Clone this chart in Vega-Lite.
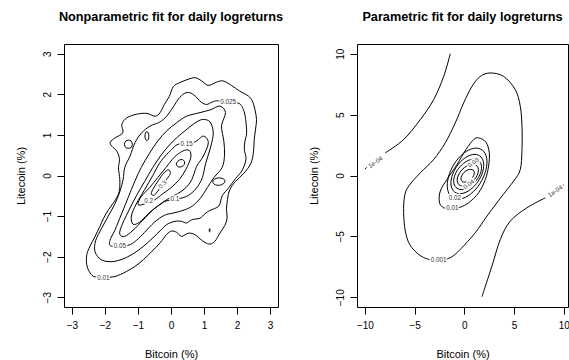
{
"$schema": "https://vega.github.io/schema/vega-lite/v6.json",
"background": "white",
"padding": {"left": 14, "top": 10, "right": 0, "bottom": 0},
"config": {
 "font": "Liberation Sans",
 "view": {"stroke": "black", "strokeWidth": 1},
 "axis": {"domain": false, "grid": false, "tickColor": "black", "tickSize": 7, "labelFont": "Liberation Sans", "labelFontSize": 10, "labelColor": "black", "titleFont": "Liberation Sans", "titleFontSize": 11, "titleFontWeight": "normal", "titleColor": "black", "labelFlush": false},
 "axisX": {"labelPadding": 6, "titlePadding": 18},
 "axisY": {"labelAngle": -90, "labelAlign": "center", "labelBaseline": "bottom", "labelPadding": 5, "titlePadding": 16},
 "title": {"font": "Liberation Sans", "fontSize": 12.7, "fontWeight": "bold", "color": "black", "offset": 20}
},
"spacing": 79,
"bounds": "flush",
"datasets": {
 "np_loops": [
  {"c":"a01","i":1,"x":-1.78,"y":-2.50},{"c":"a01","i":2,"x":-1.54,"y":-2.44},{"c":"a01","i":3,"x":-1.34,"y":-2.36},{"c":"a01","i":4,"x":-1.09,"y":-2.24},{"c":"a01","i":5,"x":-0.83,"y":-2.07},{"c":"a01","i":6,"x":-0.58,"y":-1.87},{"c":"a01","i":7,"x":-0.33,"y":-1.66},{"c":"a01","i":8,"x":-0.13,"y":-1.45},{"c":"a01","i":9,"x":0.02,"y":-1.37},{"c":"a01","i":10,"x":0.17,"y":-1.40},{"c":"a01","i":11,"x":0.32,"y":-1.50},{"c":"a01","i":12,"x":0.53,"y":-1.42},{"c":"a01","i":13,"x":0.73,"y":-1.46},{"c":"a01","i":14,"x":0.88,"y":-1.56},{"c":"a01","i":15,"x":1.03,"y":-1.65},{"c":"a01","i":16,"x":1.18,"y":-1.69},{"c":"a01","i":17,"x":1.33,"y":-1.62},{"c":"a01","i":18,"x":1.48,"y":-1.42},{"c":"a01","i":19,"x":1.63,"y":-1.23},{"c":"a01","i":20,"x":1.70,"y":-1.05},{"c":"a01","i":21,"x":1.68,"y":-0.84},{"c":"a01","i":22,"x":1.71,"y":-0.59},{"c":"a01","i":23,"x":1.78,"y":-0.35},{"c":"a01","i":24,"x":1.95,"y":-0.15},{"c":"a01","i":25,"x":2.20,"y":0.05},{"c":"a01","i":26,"x":2.42,"y":0.30},{"c":"a01","i":27,"x":2.50,"y":0.60},{"c":"a01","i":28,"x":2.52,"y":0.89},{"c":"a01","i":29,"x":2.56,"y":1.14},{"c":"a01","i":30,"x":2.59,"y":1.38},{"c":"a01","i":31,"x":2.54,"y":1.63},{"c":"a01","i":32,"x":2.46,"y":1.84},{"c":"a01","i":33,"x":2.34,"y":1.96},{"c":"a01","i":34,"x":2.08,"y":2.08},{"c":"a01","i":35,"x":1.83,"y":2.22},{"c":"a01","i":36,"x":1.58,"y":2.33},{"c":"a01","i":37,"x":1.38,"y":2.30},{"c":"a01","i":38,"x":1.13,"y":2.22},{"c":"a01","i":39,"x":0.93,"y":2.33},{"c":"a01","i":40,"x":0.73,"y":2.41},{"c":"a01","i":41,"x":0.52,"y":2.37},{"c":"a01","i":42,"x":0.27,"y":2.29},{"c":"a01","i":43,"x":0.07,"y":2.19},{"c":"a01","i":44,"x":-0.05,"y":1.95},{"c":"a01","i":45,"x":-0.20,"y":1.75},{"c":"a01","i":46,"x":-0.33,"y":1.55},{"c":"a01","i":47,"x":-0.48,"y":1.46},{"c":"a01","i":48,"x":-0.73,"y":1.53},{"c":"a01","i":49,"x":-1.04,"y":1.51},{"c":"a01","i":50,"x":-1.34,"y":1.42},{"c":"a01","i":51,"x":-1.49,"y":1.26},{"c":"a01","i":52,"x":-1.46,"y":1.05},{"c":"a01","i":53,"x":-1.69,"y":0.93},{"c":"a01","i":54,"x":-1.84,"y":0.82},{"c":"a01","i":55,"x":-1.79,"y":0.72},{"c":"a01","i":56,"x":-1.64,"y":0.60},{"c":"a01","i":57,"x":-1.56,"y":0.40},{"c":"a01","i":58,"x":-1.59,"y":0.19},{"c":"a01","i":59,"x":-1.55,"y":-0.10},{"c":"a01","i":60,"x":-1.56,"y":-0.35},{"c":"a01","i":61,"x":-1.62,"y":-0.51},{"c":"a01","i":62,"x":-1.74,"y":-0.67},{"c":"a01","i":63,"x":-1.89,"y":-0.84},{"c":"a01","i":64,"x":-2.04,"y":-1.05},{"c":"a01","i":65,"x":-2.15,"y":-1.25},{"c":"a01","i":66,"x":-2.30,"y":-1.50},{"c":"a01","i":67,"x":-2.45,"y":-1.74},{"c":"a01","i":68,"x":-2.55,"y":-1.95},{"c":"a01","i":69,"x":-2.55,"y":-2.20},{"c":"a01","i":70,"x":-2.45,"y":-2.40},{"c":"a01","i":71,"x":-2.28,"y":-2.50},

  {"c":"a025","i":1,"x":2.02,"y":1.79},{"c":"a025","i":2,"x":2.19,"y":1.63},{"c":"a025","i":3,"x":2.26,"y":1.38},{"c":"a025","i":4,"x":2.29,"y":1.05},{"c":"a025","i":5,"x":2.24,"y":0.85},{"c":"a025","i":6,"x":2.22,"y":0.64},{"c":"a025","i":7,"x":2.27,"y":0.40},{"c":"a025","i":8,"x":2.15,"y":0.12},{"c":"a025","i":9,"x":1.95,"y":-0.08},{"c":"a025","i":10,"x":1.75,"y":-0.30},{"c":"a025","i":11,"x":1.55,"y":-0.50},{"c":"a025","i":12,"x":1.45,"y":-0.75},{"c":"a025","i":13,"x":1.18,"y":-0.86},{"c":"a025","i":14,"x":1.03,"y":-0.94},{"c":"a025","i":15,"x":0.88,"y":-1.05},{"c":"a025","i":16,"x":0.63,"y":-1.09},{"c":"a025","i":17,"x":0.47,"y":-1.17},{"c":"a025","i":18,"x":0.32,"y":-1.13},{"c":"a025","i":19,"x":0.12,"y":-1.13},{"c":"a025","i":20,"x":-0.13,"y":-1.21},{"c":"a025","i":21,"x":-0.40,"y":-1.42},{"c":"a025","i":22,"x":-0.70,"y":-1.65},{"c":"a025","i":23,"x":-1.00,"y":-1.85},{"c":"a025","i":24,"x":-1.35,"y":-2.02},{"c":"a025","i":25,"x":-1.75,"y":-2.12},{"c":"a025","i":26,"x":-2.10,"y":-2.08},{"c":"a025","i":27,"x":-2.30,"y":-1.88},{"c":"a025","i":28,"x":-2.28,"y":-1.60},{"c":"a025","i":29,"x":-2.10,"y":-1.30},{"c":"a025","i":30,"x":-1.90,"y":-1.00},{"c":"a025","i":31,"x":-1.70,"y":-0.70},{"c":"a025","i":32,"x":-1.55,"y":-0.40},{"c":"a025","i":33,"x":-1.45,"y":-0.10},{"c":"a025","i":34,"x":-1.40,"y":0.20},{"c":"a025","i":35,"x":-1.24,"y":0.48},{"c":"a025","i":36,"x":-1.09,"y":0.81},{"c":"a025","i":37,"x":-0.89,"y":1.05},{"c":"a025","i":38,"x":-0.63,"y":1.22},{"c":"a025","i":39,"x":-0.38,"y":1.30},{"c":"a025","i":40,"x":-0.18,"y":1.42},{"c":"a025","i":41,"x":0.02,"y":1.63},{"c":"a025","i":42,"x":0.22,"y":1.88},{"c":"a025","i":43,"x":0.40,"y":2.02},{"c":"a025","i":44,"x":0.57,"y":2.04},{"c":"a025","i":45,"x":0.73,"y":1.96},{"c":"a025","i":46,"x":0.91,"y":1.81},{"c":"a025","i":47,"x":1.08,"y":1.75},{"c":"a025","i":48,"x":1.25,"y":1.81},{"c":"a025","i":49,"x":1.45,"y":1.84},

  {"c":"a05","i":1,"x":-1.30,"y":-1.72},{"c":"a05","i":2,"x":-1.05,"y":-1.60},{"c":"a05","i":3,"x":-0.80,"y":-1.40},{"c":"a05","i":4,"x":-0.50,"y":-1.15},{"c":"a05","i":5,"x":-0.20,"y":-0.98},{"c":"a05","i":6,"x":0.10,"y":-0.92},{"c":"a05","i":7,"x":0.40,"y":-0.85},{"c":"a05","i":8,"x":0.65,"y":-0.75},{"c":"a05","i":9,"x":0.90,"y":-0.55},{"c":"a05","i":10,"x":1.10,"y":-0.30},{"c":"a05","i":11,"x":1.30,"y":-0.05},{"c":"a05","i":12,"x":1.55,"y":0.20},{"c":"a05","i":13,"x":1.62,"y":0.50},{"c":"a05","i":14,"x":1.60,"y":0.85},{"c":"a05","i":15,"x":1.53,"y":1.22},{"c":"a05","i":16,"x":1.65,"y":1.55},{"c":"a05","i":17,"x":1.48,"y":1.71},{"c":"a05","i":18,"x":1.20,"y":1.62},{"c":"a05","i":19,"x":0.88,"y":1.55},{"c":"a05","i":20,"x":0.47,"y":1.46},{"c":"a05","i":21,"x":0.17,"y":1.30},{"c":"a05","i":22,"x":-0.13,"y":1.10},{"c":"a05","i":23,"x":-0.40,"y":0.85},{"c":"a05","i":24,"x":-0.65,"y":0.55},{"c":"a05","i":25,"x":-0.90,"y":0.20},{"c":"a05","i":26,"x":-1.10,"y":-0.15},{"c":"a05","i":27,"x":-1.30,"y":-0.55},{"c":"a05","i":28,"x":-1.50,"y":-0.95},{"c":"a05","i":29,"x":-1.70,"y":-1.35},{"c":"a05","i":30,"x":-1.85,"y":-1.60},{"c":"a05","i":31,"x":-1.80,"y":-1.74},

  {"c":"a1","i":1,"x":0.35,"y":-0.55},{"c":"a1","i":2,"x":0.60,"y":-0.45},{"c":"a1","i":3,"x":0.80,"y":-0.28},{"c":"a1","i":4,"x":0.95,"y":-0.05},{"c":"a1","i":5,"x":1.05,"y":0.30},{"c":"a1","i":6,"x":1.20,"y":0.70},{"c":"a1","i":7,"x":1.28,"y":1.05},{"c":"a1","i":8,"x":1.18,"y":1.32},{"c":"a1","i":9,"x":0.95,"y":1.38},{"c":"a1","i":10,"x":0.70,"y":1.28},{"c":"a1","i":11,"x":0.45,"y":1.12},{"c":"a1","i":12,"x":0.20,"y":0.95},{"c":"a1","i":13,"x":-0.05,"y":0.75},{"c":"a1","i":14,"x":-0.30,"y":0.50},{"c":"a1","i":15,"x":-0.55,"y":0.20},{"c":"a1","i":16,"x":-0.80,"y":-0.15},{"c":"a1","i":17,"x":-1.05,"y":-0.50},{"c":"a1","i":18,"x":-1.30,"y":-0.90},{"c":"a1","i":19,"x":-1.50,"y":-1.25},{"c":"a1","i":20,"x":-1.55,"y":-1.45},{"c":"a1","i":21,"x":-1.40,"y":-1.50},{"c":"a1","i":22,"x":-1.15,"y":-1.35},{"c":"a1","i":23,"x":-0.85,"y":-1.10},{"c":"a1","i":24,"x":-0.55,"y":-0.85},{"c":"a1","i":25,"x":-0.30,"y":-0.70},{"c":"a1","i":26,"x":-0.12,"y":-0.62},

  {"c":"a15","i":1,"x":0.70,"y":0.82},{"c":"a15","i":2,"x":0.98,"y":0.97},{"c":"a15","i":3,"x":1.13,"y":0.81},{"c":"a15","i":4,"x":0.98,"y":0.48},{"c":"a15","i":5,"x":0.78,"y":0.23},{"c":"a15","i":6,"x":0.63,"y":-0.10},{"c":"a15","i":7,"x":0.45,"y":-0.30},{"c":"a15","i":8,"x":0.20,"y":-0.45},{"c":"a15","i":9,"x":-0.10,"y":-0.58},{"c":"a15","i":10,"x":-0.40,"y":-0.75},{"c":"a15","i":11,"x":-0.70,"y":-0.95},{"c":"a15","i":12,"x":-0.95,"y":-1.15},{"c":"a15","i":13,"x":-1.15,"y":-1.20},{"c":"a15","i":14,"x":-1.20,"y":-1.00},{"c":"a15","i":15,"x":-1.05,"y":-0.70},{"c":"a15","i":16,"x":-0.80,"y":-0.35},{"c":"a15","i":17,"x":-0.55,"y":0.00},{"c":"a15","i":18,"x":-0.35,"y":0.30},{"c":"a15","i":19,"x":-0.13,"y":0.52},{"c":"a15","i":20,"x":0.02,"y":0.64},{"c":"a15","i":21,"x":0.22,"y":0.77},

  {"c":"a2","i":1,"x":-0.50,"y":-0.60},{"c":"a2","i":2,"x":-0.25,"y":-0.45},{"c":"a2","i":3,"x":0.00,"y":-0.30},{"c":"a2","i":4,"x":0.25,"y":-0.10},{"c":"a2","i":5,"x":0.45,"y":0.15},{"c":"a2","i":6,"x":0.60,"y":0.45},{"c":"a2","i":7,"x":0.55,"y":0.62},{"c":"a2","i":8,"x":0.35,"y":0.60},{"c":"a2","i":9,"x":0.10,"y":0.45},{"c":"a2","i":10,"x":-0.15,"y":0.20},{"c":"a2","i":11,"x":-0.40,"y":-0.05},{"c":"a2","i":12,"x":-0.65,"y":-0.30},{"c":"a2","i":13,"x":-0.90,"y":-0.52},{"c":"a2","i":14,"x":-1.00,"y":-0.70},{"c":"a2","i":15,"x":-0.88,"y":-0.72},

  {"c":"a3","i":1,"x":-0.12,"y":-0.08},{"c":"a3","i":2,"x":-0.02,"y":0.05},{"c":"a3","i":3,"x":-0.08,"y":0.14},{"c":"a3","i":4,"x":-0.22,"y":0.06},{"c":"a3","i":5,"x":-0.38,"y":-0.12},{"c":"a3","i":6,"x":-0.52,"y":-0.30},{"c":"a3","i":7,"x":-0.60,"y":-0.45},{"c":"a3","i":8,"x":-0.50,"y":-0.48},{"c":"a3","i":9,"x":-0.38,"y":-0.36},

  {"c":"b1","i":1,"x":-1.17,"y":0.77},{"c":"b1","i":2,"x":-1.21,"y":0.85},{"c":"b1","i":3,"x":-1.29,"y":0.87},{"c":"b1","i":4,"x":-1.37,"y":0.85},{"c":"b1","i":5,"x":-1.41,"y":0.77},{"c":"b1","i":6,"x":-1.37,"y":0.69},{"c":"b1","i":7,"x":-1.29,"y":0.67},{"c":"b1","i":8,"x":-1.21,"y":0.69},
  {"c":"b2","i":1,"x":-0.67,"y":0.97},{"c":"b2","i":2,"x":-0.69,"y":1.05},{"c":"b2","i":3,"x":-0.73,"y":1.08},{"c":"b2","i":4,"x":-0.77,"y":1.05},{"c":"b2","i":5,"x":-0.79,"y":0.97},{"c":"b2","i":6,"x":-0.77,"y":0.89},{"c":"b2","i":7,"x":-0.73,"y":0.86},{"c":"b2","i":8,"x":-0.69,"y":0.89},
  {"c":"b3","i":1,"x":0.41,"y":0.34},{"c":"b3","i":2,"x":0.35,"y":0.39},{"c":"b3","i":3,"x":0.25,"y":0.38},{"c":"b3","i":4,"x":0.17,"y":0.31},{"c":"b3","i":5,"x":0.17,"y":0.25},{"c":"b3","i":6,"x":0.23,"y":0.21},{"c":"b3","i":7,"x":0.33,"y":0.22},{"c":"b3","i":8,"x":0.40,"y":0.27},
  {"c":"b4","i":1,"x":1.63,"y":-0.12},{"c":"b4","i":2,"x":1.55,"y":-0.07},{"c":"b4","i":3,"x":1.43,"y":-0.06},{"c":"b4","i":4,"x":1.30,"y":-0.10},{"c":"b4","i":5,"x":1.27,"y":-0.18},{"c":"b4","i":6,"x":1.35,"y":-0.23},{"c":"b4","i":7,"x":1.47,"y":-0.24},{"c":"b4","i":8,"x":1.59,"y":-0.20},
  {"c":"b5","i":1,"x":1.18,"y":-1.32},{"c":"b5","i":2,"x":1.16,"y":-1.32},{"c":"b5","i":3,"x":1.16,"y":-1.38},{"c":"b5","i":4,"x":1.18,"y":-1.38}
 ],
 "np_lab0": [
  {"t":"0.01","x":-2.05,"y":-2.52},{"t":"0.025","x":1.73,"y":1.82},{"t":"0.05","x":-1.55,"y":-1.74},{"t":"0.1","x":0.12,"y":-0.58},{"t":"0.15","x":0.47,"y":0.77},{"t":"0.2","x":-0.68,"y":-0.63}
 ],
 "np_lab40": [
  {"t":"0.3","x":-0.26,"y":-0.22}
 ],
 "p_lines": [
  {"c":"u1","i":1,"x":-7.95,"y":1.86},{"c":"u1","i":2,"x":-6.11,"y":2.95},{"c":"u1","i":3,"x":-4.43,"y":4.59},{"c":"u1","i":4,"x":-3.09,"y":6.23},{"c":"u1","i":5,"x":-2.08,"y":8.14},{"c":"u1","i":6,"x":-1.41,"y":10.0},
  {"c":"u2","i":1,"x":-10.0,"y":0.52},{"c":"u2","i":2,"x":-9.82,"y":0.66},
  {"c":"v1","i":1,"x":8.15,"y":-1.83},{"c":"v1","i":2,"x":6.30,"y":-2.65},{"c":"v1","i":3,"x":4.63,"y":-3.74},{"c":"v1","i":4,"x":3.62,"y":-5.25},{"c":"v1","i":5,"x":2.78,"y":-7.43},{"c":"v1","i":6,"x":1.77,"y":-9.95},
  {"c":"v2","i":1,"x":9.85,"y":-0.87},{"c":"v2","i":2,"x":10.0,"y":-0.78}
 ],
 "p_loops": [
  {"c":"r001","i":1,"x":-1.41,"y":-6.75},{"c":"r001","i":2,"x":-0.41,"y":-6.07},{"c":"r001","i":3,"x":1.10,"y":-4.70},{"c":"r001","i":4,"x":2.28,"y":-3.33},{"c":"r001","i":5,"x":3.79,"y":-1.69},{"c":"r001","i":6,"x":4.96,"y":-0.46},{"c":"r001","i":7,"x":5.63,"y":0.49},{"c":"r001","i":8,"x":5.80,"y":2.13},{"c":"r001","i":9,"x":5.80,"y":4.04},{"c":"r001","i":10,"x":5.63,"y":5.68},{"c":"r001","i":11,"x":5.13,"y":7.05},{"c":"r001","i":12,"x":3.95,"y":8.14},{"c":"r001","i":13,"x":2.61,"y":8.42},{"c":"r001","i":14,"x":1.61,"y":8.14},{"c":"r001","i":15,"x":0.77,"y":7.32},{"c":"r001","i":16,"x":-0.07,"y":5.96},{"c":"r001","i":17,"x":-0.91,"y":4.32},{"c":"r001","i":18,"x":-1.92,"y":2.68},{"c":"r001","i":19,"x":-3.09,"y":1.31},{"c":"r001","i":20,"x":-4.43,"y":0.22},{"c":"r001","i":21,"x":-5.60,"y":-0.87},{"c":"r001","i":22,"x":-6.01,"y":-1.69},{"c":"r001","i":23,"x":-6.11,"y":-3.06},{"c":"r001","i":24,"x":-5.94,"y":-4.56},{"c":"r001","i":25,"x":-5.50,"y":-5.66},{"c":"r001","i":26,"x":-4.60,"y":-6.48},{"c":"r001","i":27,"x":-3.59,"y":-6.89},{"c":"r001","i":28,"x":-2.58,"y":-6.94},
  {"c":"r01","i":1,"x":-0.41,"y":-2.60},{"c":"r01","i":2,"x":0.43,"y":-2.24},{"c":"r01","i":3,"x":1.44,"y":-1.42},{"c":"r01","i":4,"x":2.11,"y":-0.33},{"c":"r01","i":5,"x":2.44,"y":0.77},{"c":"r01","i":6,"x":2.51,"y":1.86},{"c":"r01","i":7,"x":2.18,"y":2.73},{"c":"r01","i":8,"x":1.44,"y":3.09},{"c":"r01","i":9,"x":0.94,"y":2.95},{"c":"r01","i":10,"x":0.16,"y":2.13},{"c":"r01","i":11,"x":-0.74,"y":0.90},{"c":"r01","i":12,"x":-1.75,"y":-0.33},{"c":"r01","i":13,"x":-2.42,"y":-1.28},{"c":"r01","i":14,"x":-2.51,"y":-2.19},{"c":"r01","i":15,"x":-2.08,"y":-2.65},{"c":"r01","i":16,"x":-1.20,"y":-2.70},
  {"c":"r02","i":1,"x":1.19,"y":2.25},{"c":"r02","i":2,"x":1.96,"y":1.97},{"c":"r02","i":3,"x":2.28,"y":1.20},{"c":"r02","i":4,"x":2.06,"y":0.15},{"c":"r02","i":5,"x":1.37,"y":-0.90},{"c":"r02","i":6,"x":0.38,"y":-1.67},{"c":"r02","i":7,"x":-0.63,"y":-1.95},{"c":"r02","i":8,"x":-1.40,"y":-1.67},{"c":"r02","i":9,"x":-1.72,"y":-0.90},{"c":"r02","i":10,"x":-1.50,"y":0.15},{"c":"r02","i":11,"x":-0.81,"y":1.20},{"c":"r02","i":12,"x":0.18,"y":1.97},
  {"c":"r03","i":1,"x":1.05,"y":1.74},{"c":"r03","i":2,"x":1.68,"y":1.52},{"c":"r03","i":3,"x":1.95,"y":0.93},{"c":"r03","i":4,"x":1.77,"y":0.12},{"c":"r03","i":5,"x":1.20,"y":-0.69},{"c":"r03","i":6,"x":0.39,"y":-1.28},{"c":"r03","i":7,"x":-0.45,"y":-1.50},{"c":"r03","i":8,"x":-1.08,"y":-1.28},{"c":"r03","i":9,"x":-1.35,"y":-0.69},{"c":"r03","i":10,"x":-1.17,"y":0.12},{"c":"r03","i":11,"x":-0.60,"y":0.93},{"c":"r03","i":12,"x":0.21,"y":1.52},
  {"c":"r04","i":1,"x":0.97,"y":1.35},{"c":"r04","i":2,"x":1.50,"y":1.18},{"c":"r04","i":3,"x":1.73,"y":0.73},{"c":"r04","i":4,"x":1.58,"y":0.10},{"c":"r04","i":5,"x":1.09,"y":-0.53},{"c":"r04","i":6,"x":0.40,"y":-0.98},{"c":"r04","i":7,"x":-0.31,"y":-1.15},{"c":"r04","i":8,"x":-0.84,"y":-0.98},{"c":"r04","i":9,"x":-1.07,"y":-0.53},{"c":"r04","i":10,"x":-0.92,"y":0.10},{"c":"r04","i":11,"x":-0.43,"y":0.73},{"c":"r04","i":12,"x":0.26,"y":1.18},
  {"c":"r05","i":1,"x":0.84,"y":0.93},{"c":"r05","i":2,"x":1.25,"y":0.81},{"c":"r05","i":3,"x":1.42,"y":0.48},{"c":"r05","i":4,"x":1.30,"y":0.03},{"c":"r05","i":5,"x":0.93,"y":-0.42},{"c":"r05","i":6,"x":0.41,"y":-0.75},{"c":"r05","i":7,"x":-0.14,"y":-0.87},{"c":"r05","i":8,"x":-0.55,"y":-0.75},{"c":"r05","i":9,"x":-0.72,"y":-0.42},{"c":"r05","i":10,"x":-0.60,"y":0.03},{"c":"r05","i":11,"x":-0.23,"y":0.48},{"c":"r05","i":12,"x":0.29,"y":0.81},
  {"c":"r06","i":1,"x":0.63,"y":0.51},{"c":"r06","i":2,"x":0.89,"y":0.44},{"c":"r06","i":3,"x":1.00,"y":0.25},{"c":"r06","i":4,"x":0.93,"y":-0.02},{"c":"r06","i":5,"x":0.70,"y":-0.29},{"c":"r06","i":6,"x":0.36,"y":-0.48},{"c":"r06","i":7,"x":0.03,"y":-0.55},{"c":"r06","i":8,"x":-0.23,"y":-0.48},{"c":"r06","i":9,"x":-0.34,"y":-0.29},{"c":"r06","i":10,"x":-0.27,"y":-0.02},{"c":"r06","i":11,"x":-0.04,"y":0.25},{"c":"r06","i":12,"x":0.30,"y":0.44}
 ],
 "p_lab0": [
  {"t":"0.001","x":-2.58,"y":-6.94},{"t":"0.01","x":-1.20,"y":-2.70},{"t":"0.02","x":-0.95,"y":-1.83}
 ],
 "p_lab40": [
  {"t":"1e-04","x":-8.95,"y":1.09},{"t":"1e-04","x":9.15,"y":-1.29},{"t":"0.03","x":0.90,"y":1.05},{"t":"0.04","x":0.45,"y":-0.72}
 ]
},
"hconcat": [
 {
  "width": 214, "height": 263,
  "title": "Nonparametric fit for daily logreturns",
  "encoding": {
   "x": {"field": "x", "type": "quantitative", "scale": {"domain": [-3.24, 3.24], "nice": false, "zero": false}, "axis": {"values": [-3,-2,-1,0,1,2,3], "title": "Bitcoin (%)"}},
   "y": {"field": "y", "type": "quantitative", "scale": {"domain": [-3.24, 3.24], "nice": false, "zero": false}, "axis": {"values": [-3,-2,-1,0,1,2,3], "title": "Litecoin (%)"}}
  },
  "layer": [
   {"data": {"name": "np_loops"}, "mark": {"type": "line", "interpolate": "cardinal-closed", "color": "black", "strokeWidth": 1, "clip": true}, "encoding": {"detail": {"field": "c"}, "order": {"field": "i", "type": "quantitative"}}},
   {"data": {"name": "np_lab0"}, "mark": {"type": "text", "fontSize": 6.3, "stroke": "white", "strokeWidth": 3, "fill": "white"}, "encoding": {"text": {"field": "t"}}},
   {"data": {"name": "np_lab0"}, "mark": {"type": "text", "fontSize": 6.3, "fill": "#333"}, "encoding": {"text": {"field": "t"}}},
   {"data": {"name": "np_lab40"}, "mark": {"type": "text", "fontSize": 6.3, "angle": 315, "stroke": "white", "strokeWidth": 3, "fill": "white"}, "encoding": {"text": {"field": "t"}}},
   {"data": {"name": "np_lab40"}, "mark": {"type": "text", "fontSize": 6.3, "angle": 315, "fill": "#333"}, "encoding": {"text": {"field": "t"}}}
  ]
 },
 {
  "width": 211, "height": 263,
  "title": "Parametric fit for daily logreturns",
  "encoding": {
   "x": {"field": "x", "type": "quantitative", "scale": {"domain": [-10.8, 10.43], "nice": false, "zero": false}, "axis": {"values": [-10,-5,0,5,10], "title": "Bitcoin (%)"}},
   "y": {"field": "y", "type": "quantitative", "scale": {"domain": [-10.8, 10.8], "nice": false, "zero": false}, "axis": {"values": [-10,-5,0,5,10], "title": "Litecoin (%)"}}
  },
  "layer": [
   {"data": {"name": "p_lines"}, "mark": {"type": "line", "interpolate": "cardinal", "color": "black", "strokeWidth": 1, "clip": true}, "encoding": {"detail": {"field": "c"}, "order": {"field": "i", "type": "quantitative"}}},
   {"data": {"name": "p_loops"}, "mark": {"type": "line", "interpolate": "cardinal-closed", "color": "black", "strokeWidth": 1, "clip": true}, "encoding": {"detail": {"field": "c"}, "order": {"field": "i", "type": "quantitative"}}},
   {"data": {"name": "p_lab0"}, "mark": {"type": "text", "fontSize": 6.3, "stroke": "white", "strokeWidth": 3, "fill": "white"}, "encoding": {"text": {"field": "t"}}},
   {"data": {"name": "p_lab0"}, "mark": {"type": "text", "fontSize": 6.3, "fill": "#333"}, "encoding": {"text": {"field": "t"}}},
   {"data": {"name": "p_lab40"}, "mark": {"type": "text", "fontSize": 6.3, "angle": 325, "stroke": "white", "strokeWidth": 3, "fill": "white"}, "encoding": {"text": {"field": "t"}}},
   {"data": {"name": "p_lab40"}, "mark": {"type": "text", "fontSize": 6.3, "angle": 325, "fill": "#333"}, "encoding": {"text": {"field": "t"}}}
  ]
 }
]
}
